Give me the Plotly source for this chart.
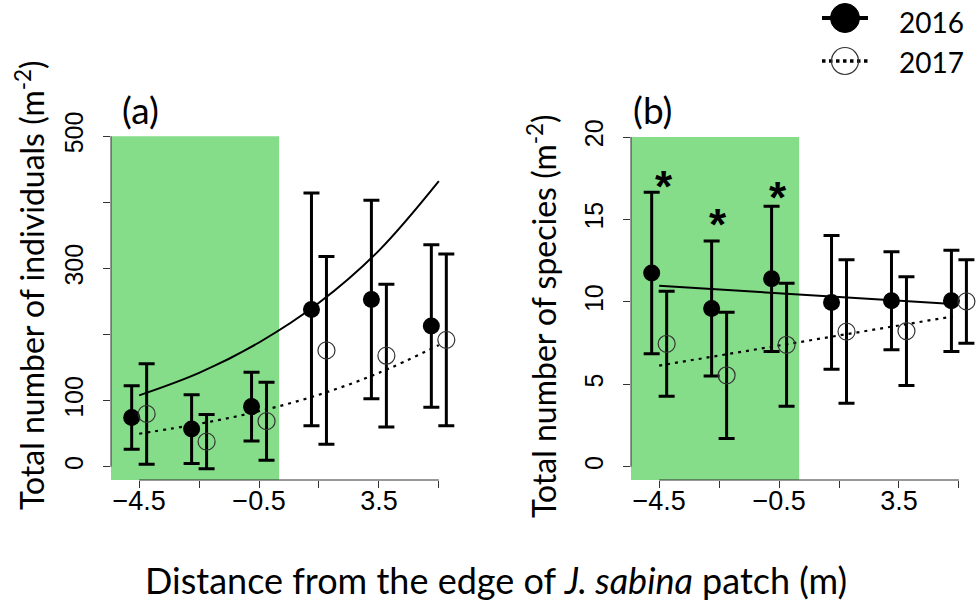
import plotly.graph_objects as go

W, H = 979, 606

# ---------------- data ----------------
DIST = [-4.5, -2.5, -0.5, 1.5, 3.5, 5.5]
DODGE = 0.25

IND_2016 = [74.5, 57, 91, 238, 253, 213]
IND_2016_ERR = [48, 52, 52, 176, 150, 123]
IND_2017 = [80, 38, 69, 176, 168, 192]
IND_2017_ERR = [76, 41, 59, 142, 108, 130]

SPP_2016 = [11.75, 9.6, 11.4, 9.97, 10.07, 10.07]
SPP_2016_ERR = [4.9, 4.1, 4.4, 4.05, 2.97, 3.07]
SPP_2017 = [7.46, 5.55, 7.4, 8.2, 8.23, 10.03]
SPP_2017_ERR = [3.18, 3.83, 3.73, 4.35, 3.3, 2.53]

FIT_X_A = [-4.5, -2.5, -0.5, 1.5, 3.5, 5.5]
FIT_IND_2016 = [108, 142, 188, 248, 327, 432]
FIT_IND_2017 = [50, 65, 84, 109, 142, 184]
FIT_X_B = [-4.5, 5.3]
FIT_SPP_2016 = [10.98, 9.87]
FIT_SPP_2017 = [6.14, 9.12]

STAR_X = [-4.35, -2.53, -0.53]
STAR_Y = [17.5, 15.2, 16.8]

PATCH_EDGE = 0.17

X_TICKS = [-4.5, -2.5, -0.5, 1.5, 3.5, 5.5]
X_TICK_TEXT = ["\u22124.5", "", "\u22120.5", "", "3.5", ""]
Y_TICKS_A = [0, 100, 200, 300, 400, 500]
Y_TICK_TEXT_A = ["0", "100", "", "300", "", "500"]
Y_TICKS_B = [0, 5, 10, 15, 20]
Y_TICK_TEXT_B = ["0", "5", "10", "15", "20"]

X_RANGE_A = [-5.44, 6.44]
X_RANGE_B = [-5.44, 6.17]
Y_RANGE_A = [-20, 520]
Y_RANGE_B = [-0.8, 20.85]

GREEN = "#85DD89"
TITLE_FONT = "Lato"
TICK_FONT = "Liberation Sans"


def px(x):
    return x / W


def py(y):
    return 1 - y / H


fig = go.Figure()


def add_panel(xa, ya, m16, e16, m17, e17, fx, f16, f17):
    fig.add_trace(go.Scatter(x=fx, y=f16, mode="lines", xaxis=xa, yaxis=ya,
                             line=dict(color="black", width=2, shape="spline"),
                             showlegend=False, hoverinfo="skip"))
    fig.add_trace(go.Scatter(x=fx, y=f17, mode="lines", xaxis=xa, yaxis=ya,
                             line=dict(color="black", width=2.2, dash="3px,5px", shape="spline"),
                             showlegend=False, hoverinfo="skip"))
    fig.add_trace(go.Scatter(x=[d - DODGE for d in DIST], y=m16, mode="markers",
                             xaxis=xa, yaxis=ya, showlegend=False, cliponaxis=False,
                             marker=dict(symbol="circle", size=17, color="black"),
                             error_y=dict(type="data", array=e16, color="black",
                                          thickness=3, width=8)))
    fig.add_trace(go.Scatter(x=[d + DODGE for d in DIST], y=m17, mode="markers",
                             xaxis=xa, yaxis=ya, showlegend=False, cliponaxis=False,
                             marker=dict(symbol="circle-open", size=17, color="#333333",
                                         line=dict(width=1.2)),
                             error_y=dict(type="data", array=e17, color="black",
                                          thickness=3, width=8)))


add_panel("x", "y", IND_2016, IND_2016_ERR, IND_2017, IND_2017_ERR,
          FIT_X_A, FIT_IND_2016, FIT_IND_2017)
add_panel("x2", "y2", SPP_2016, SPP_2016_ERR, SPP_2017, SPP_2017_ERR,
          FIT_X_B, FIT_SPP_2016, FIT_SPP_2017)

YDOM = [py(480), py(123)]
axis_common = dict(showgrid=False, zeroline=False, showline=False, ticks="outside",
                   ticklen=7, tickwidth=1, tickcolor="#333333", automargin=False,
                   tickfont=dict(family=TICK_FONT, size=27, color="black"))
yfont = dict(family=TICK_FONT, size=25, color="black")

fig.update_layout(
    width=W, height=H, margin=dict(l=0, r=0, t=0, b=0, autoexpand=False),
    paper_bgcolor="white", plot_bgcolor="white", showlegend=False,
    xaxis=dict(domain=[px(111), px(467)], range=X_RANGE_A, tickmode="array",
               tickvals=X_TICKS, ticktext=X_TICK_TEXT, anchor="y", ticklabelstandoff=-10,
               **axis_common),
    yaxis=dict(domain=YDOM, range=Y_RANGE_A, tickmode="array", tickvals=Y_TICKS_A,
               ticktext=Y_TICK_TEXT_A, tickangle=-90, anchor="x", ticklabelstandoff=10,
               **{**axis_common, "tickfont": yfont}),
    xaxis2=dict(domain=[px(631), 1.0], range=X_RANGE_B, tickmode="array",
                tickvals=X_TICKS, ticktext=X_TICK_TEXT, anchor="y2", ticklabelstandoff=-10,
                **axis_common),
    yaxis2=dict(domain=YDOM, range=Y_RANGE_B, tickmode="array", tickvals=Y_TICKS_B,
                ticktext=Y_TICK_TEXT_B, tickangle=-90, anchor="x2", ticklabelstandoff=10,
                **{**axis_common, "tickfont": yfont}),
)

shapes = []
for xref, yref, ytop in [("x", "y", 500), ("x2", "y2", 20)]:
    xrange_ = X_RANGE_A if xref == "x" else X_RANGE_B
    yrange_ = Y_RANGE_A if yref == "y" else Y_RANGE_B
    shapes.append(dict(type="rect", xref=xref, yref=yref, x0=xrange_[0], x1=PATCH_EDGE,
                       y0=yrange_[0], y1=ytop, fillcolor=GREEN, line=dict(width=0),
                       layer="below"))
    # R-style axis lines spanning only the tick range
    shapes.append(dict(type="line", xref=xref + " domain", yref=yref, x0=0, x1=0,
                       y0=0, y1=ytop, line=dict(color="#333333", width=1)))
    shapes.append(dict(type="line", xref=xref, yref=yref + " domain", x0=X_TICKS[0],
                       x1=X_TICKS[-1], y0=0, y1=0, line=dict(color="#333333", width=1)))

# custom legend
shapes.append(dict(type="line", xref="paper", yref="paper", x0=px(822), x1=px(868),
                   y0=py(18), y1=py(18), line=dict(color="black", width=4)))
shapes.append(dict(type="circle", xref="paper", yref="paper", x0=px(845 - 14.5),
                   x1=px(845 + 14.5), y0=py(18 + 14.5), y1=py(18 - 14.5),
                   fillcolor="black", line=dict(color="black", width=1)))
shapes.append(dict(type="line", xref="paper", yref="paper", x0=px(822), x1=px(868),
                   y0=py(61), y1=py(61), line=dict(color="black", width=3.5, dash="dot")))
shapes.append(dict(type="circle", xref="paper", yref="paper", x0=px(845 - 13.5),
                   x1=px(845 + 13.5), y0=py(61 + 13.5), y1=py(61 - 13.5),
                   line=dict(color="#333333", width=1.2)))
fig.update_layout(shapes=shapes)

ann = []
ann.append(dict(text="2016", x=px(897), y=py(22), xref="paper", yref="paper",
                xanchor="left", yanchor="middle", showarrow=False,
                font=dict(family=TITLE_FONT, size=28, color="black")))
ann.append(dict(text="2017", x=px(897), y=py(62), xref="paper", yref="paper",
                xanchor="left", yanchor="middle", showarrow=False,
                font=dict(family=TITLE_FONT, size=28, color="black")))
ann.append(dict(text="(a)", x=px(140), y=py(110), xref="paper", yref="paper",
                xanchor="center", yanchor="middle", showarrow=False,
                font=dict(family=TITLE_FONT, size=37, color="black")))
ann.append(dict(text="(b)", x=px(652), y=py(110), xref="paper", yref="paper",
                xanchor="center", yanchor="middle", showarrow=False,
                font=dict(family=TITLE_FONT, size=37, color="black")))
ann.append(dict(text="Distance from the edge of <i>J. sabina</i> patch (m)",
                x=px(496), y=py(580), xref="paper", yref="paper",
                xanchor="center", yanchor="middle", showarrow=False,
                font=dict(family=TITLE_FONT, size=36, color="black")))
ann.append(dict(text="Total number of individuals (m<sup>-2</sup>)",
                x=px(30), y=py(285), xref="paper", yref="paper", textangle=-90,
                xanchor="center", yanchor="middle", showarrow=False,
                font=dict(family=TITLE_FONT, size=32, color="black")))
ann.append(dict(text="Total number of species (m<sup>-2</sup>)",
                x=px(542), y=py(316), xref="paper", yref="paper", textangle=-90,
                xanchor="center", yanchor="middle", showarrow=False,
                font=dict(family=TITLE_FONT, size=32, color="black")))
for sx, sy in zip(STAR_X, STAR_Y):
    ann.append(dict(text="<b>*</b>", x=sx, y=sy, xref="x2", yref="y2", showarrow=False,
                    xanchor="center", yanchor="middle", yshift=-8,
                    font=dict(family=TICK_FONT, size=44, color="black")))
fig.update_layout(annotations=ann)

fig.write_html("out.html", config={"displayModeBar": False},
               post_script="document.body.style.margin='0px';")
